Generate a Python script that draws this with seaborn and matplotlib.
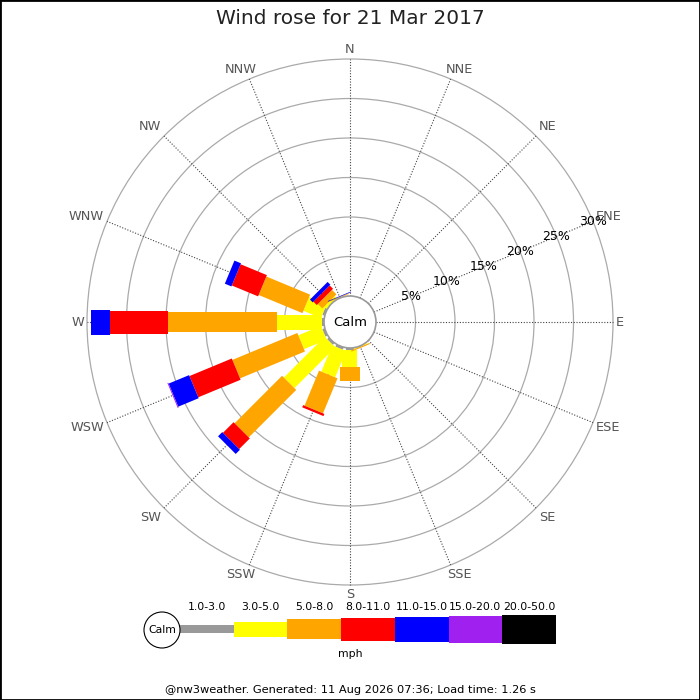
import numpy as np
import matplotlib
matplotlib.use("Agg")
import matplotlib.pyplot as plt
from matplotlib.patches import Polygon, Circle, Rectangle
import seaborn as sns

# Datos del gráfico (porcentaje de tiempo por dirección y rango de velocidad)
directions = ["N", "NNE", "NE", "ENE", "E", "ESE", "SE", "SSE",
              "S", "SSW", "SW", "WSW", "W", "WNW", "NW", "NNW"]
speed_bins = ["1.0-3.0", "3.0-5.0", "5.0-8.0", "8.0-11.0", "11.0-15.0", "15.0-20.0", "20.0-50.0"]
bin_colors = ["#999999", "#ffff00", "#ffa500", "#ff0000", "#0000ff", "#a020f0", "#000000"]

pct_1_3 = [0, 0, 0, 0, 0, 0, 0, 0, 0.3, 0.3, 0.3, 0.3, 0.3, 0.3, 0, 0]
pct_3_5 = [0, 0, 0, 0, 0, 0, 0, 0.1, 2.1, 3.6, 7.3, 3.1, 5.65, 2.4, 0.4, 0.05]
pct_5_8 = [0, 0, 0, 0, 0, 0, 0, 0.15, 1.8, 4.8, 8.5, 8.9, 13.8, 6.0, 0.8, 0.1]
pct_8_11 = [0, 0, 0, 0, 0, 0, 0, 0, 0, 0.3, 1.9, 5.8, 7.3, 3.6, 0.6, 0]
pct_11_15 = [0, 0, 0, 0, 0, 0, 0, 0, 0, 0, 0.75, 2.8, 2.5, 0.9, 0.5, 0.08]
pct_15_20 = [0, 0, 0, 0, 0, 0, 0, 0, 0, 0, 0, 0.12, 0, 0, 0, 0]
pct_20_50 = [0, 0, 0, 0, 0, 0, 0, 0, 0, 0, 0, 0, 0, 0, 0, 0]
radial_ticks = [5, 10, 15, 20, 25, 30]

title = "Wind rose for 21 Mar 2017"
footer = "@nw3weather. Generated: 11 Aug 2026 07:36; Load time: 1.26 s"

# Estilo
sns.set_theme(style="white")
plt.rcParams["font.family"] = ["DejaVu Sans"]

PX = 7.9                      # pixeles por 1 %
CALM_R = 26 / PX              # radio del círculo "Calm" en unidades de %
bar_widths = np.array([8, 15, 20, 23, 25, 27, 29]) / PX
cx, cy = 350, 322

values = np.array([pct_1_3, pct_3_5, pct_5_8, pct_8_11, pct_11_15, pct_15_20, pct_20_50])
angles = np.deg2rad(np.arange(len(directions)) * 22.5)

fig = plt.figure(figsize=(7, 7), dpi=100)
ax = fig.add_axes([0, 0, 1, 1])
ax.set_xlim(-cx / PX, (700 - cx) / PX)
ax.set_ylim(-(700 - cy) / PX, cy / PX)
ax.set_aspect("equal")
ax.axis("off")

# Anillos y radios
for p in radial_ticks:
    ax.add_patch(Circle((0, 0), CALM_R + p, fill=False, ec="#aaaaaa", lw=0.9, zorder=1))
rmax = CALM_R + radial_ticks[-1]
for a in angles:
    ax.plot([CALM_R * np.sin(a), rmax * np.sin(a)], [CALM_R * np.cos(a), rmax * np.cos(a)],
            ls=(0, (1, 1.5)), color="#444444", lw=0.8, zorder=1)

# Barras apiladas (rectángulos orientados según la dirección)
for i, a in enumerate(angles):
    d = np.array([np.sin(a), np.cos(a)])
    n = np.array([np.cos(a), -np.sin(a)])
    r0 = CALM_R
    for j in range(len(speed_bins)):
        v = values[j, i]
        if v <= 0:
            continue
        r1 = r0 + v
        hw = bar_widths[j] / 2
        pts = [r0 * d + hw * n, r1 * d + hw * n, r1 * d - hw * n, r0 * d - hw * n]
        ax.add_patch(Polygon(pts, closed=True, fc=bin_colors[j], ec="none", zorder=3 + j * 0.01))
        r0 = r1

# Círculo central
ax.add_patch(Circle((0, 0), CALM_R, fc="white", ec="#999999", lw=1.2, zorder=5))
ax.text(0, 0, "Calm", ha="center", va="center", fontsize=9.5, color="black", zorder=6)

# Etiquetas de dirección, ancladas al extremo de cada radio
PT = 0.72  # puntos por pixel
for name, a in zip(directions, angles):
    s, c = np.sin(a), np.cos(a)
    if abs(s) < 0.01:
        ha, dx = "center", 0
    elif abs(s) < 0.5:
        ha, dx = "center", 9 * np.sign(s)
    else:
        ha, dx = ("left" if s > 0 else "right"), 3 * np.sign(s)
    if abs(c) < 0.01:
        va, dy = "center", 0
    elif abs(c) < 0.5:
        va, dy = "center", 4.5 * np.sign(c)
    else:
        va, dy = ("bottom" if c > 0 else "top"), 3 * np.sign(c)
    ax.annotate(name, (rmax * s, rmax * c), xytext=(dx * PT, dy * PT), textcoords="offset points",
                ha=ha, va=va, fontsize=9.3, color="#555555", zorder=6)

# Etiquetas radiales sobre la línea ENE
lab_a = np.deg2rad(67.5)
for p in radial_ticks:
    r = CALM_R + p
    ax.text(r * np.sin(lab_a), r * np.cos(lab_a), f"{p}%", ha="center", va="center",
            fontsize=9, color="black", zorder=6)

# Leyenda inferior (coordenadas en pixeles)
ax_leg = fig.add_axes([0, 0, 1, 1])
ax_leg.set_xlim(0, 700)
ax_leg.set_ylim(700, 0)
ax_leg.axis("off")
ax_leg.patch.set_visible(False)

seg_w = 53.7
seg_x = 180 + seg_w * (np.arange(len(speed_bins)) + 0.5)
seg_h = bar_widths * PX
leg_y = 629
ax_leg.bar(seg_x, seg_h, width=seg_w, bottom=leg_y - seg_h / 2, color=bin_colors, edgecolor="none")
for x, lab in zip(seg_x, speed_bins):
    ax_leg.text(x, 607, lab, ha="center", va="center", fontsize=7.8, color="black")
ax_leg.add_patch(Circle((162, 630), 18, fc="white", ec="black", lw=0.8))
ax_leg.text(162, 630, "Calm", ha="center", va="center", fontsize=7.8, color="black")
ax_leg.text(350, 654, "mph", ha="center", va="center", fontsize=7.8, color="black")

fig.text(0.5, 1 - 18 / 700, title, ha="center", va="center", fontsize=14.5, color="#222222")
fig.text(0.5, 1 - 690 / 700, footer, ha="center", va="center", fontsize=8.2, color="black")
fig.patches.append(Rectangle((0, 0), 1, 1, transform=fig.transFigure, fill=False,
                             ec="black", lw=2, zorder=10))

fig.savefig("out.png", dpi=100, facecolor="white")
